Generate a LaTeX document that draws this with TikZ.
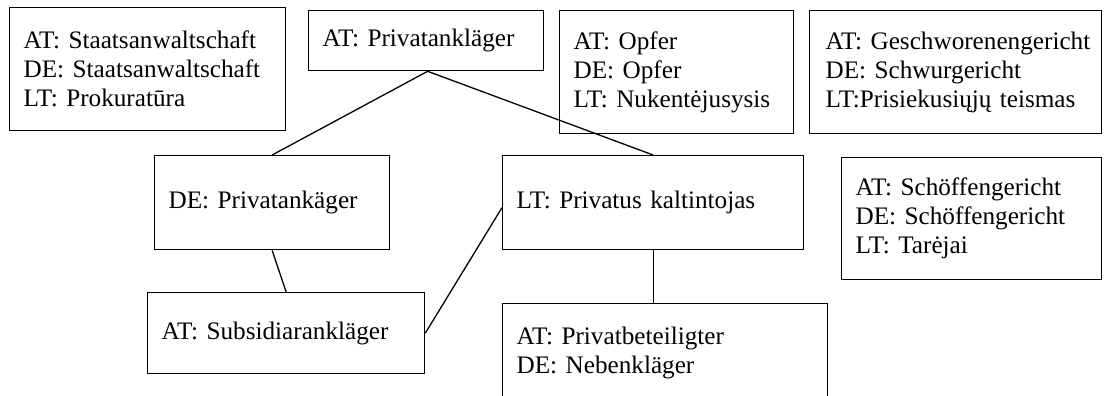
\documentclass[tikz,border=0pt]{standalone}
\usepackage{fontspec}
\setmainfont{Liberation Serif}
\frenchspacing
\hyphenpenalty=10000
\exhyphenpenalty=10000
\hbadness=10000
\hfuzz=50pt
\usetikzlibrary{positioning}
\tikzset{
  box/.style={draw=black, line width=1.3pt, rectangle, anchor=north west,
    inner xsep=14pt, inner ysep=0pt, align=left,
    font=\fontsize{25.2}{29}\selectfont},
  link/.style={draw=black, line width=1.3pt}
}
\begin{document}
\begin{tikzpicture}[x=1pt,y=-1pt]
\useasboundingbox (0,0) rectangle (1104,396);
\clip (0,0) rectangle (1104,396);
\fill[white] (0,0) rectangle (1104,396);
\node[box, text width=248pt, minimum height=123pt] (sa) at (9,7)
  {AT: Staatsanwaltschaft\\DE: Staatsanwaltschaft\\LT: Prokuratūra};
\node[box, text width=207pt, minimum height=60pt] (pa) at (308,10)
  {AT: Privatankläger};
\node[box, text width=206pt, minimum height=123pt] (op) at (559,10)
  {AT: Opfer\\DE: Opfer\\LT: Nukentėjusysis};
\node[box, inner xsep=16pt, text width=260pt, minimum height=123pt] (gg) at (809,10)
  {\mbox{AT: Geschworenengericht}\\DE: Schwurgericht\\\mbox{LT:Prisiekusiųjų teismas}};
\node[box, text width=207pt, minimum height=94pt] (de) at (154,155)
  {DE: Privatankäger};
\node[box, text width=273pt, minimum height=94pt] (lt) at (502,155)
  {LT: Privatus kaltintojas};
\node[box, text width=232pt, minimum height=122pt] (sg) at (841,157)
  {AT: Schöffengericht\\DE: Schöffengericht\\LT: Tarėjai};
\node[box, text width=249pt, minimum height=81pt] (sub) at (147,292)
  {AT: Subsidiarankläger};
\node[box, text width=297pt, minimum height=99pt] (pb) at (502,303)
  {AT: Privatbeteiligter\\DE: Nebenkläger};
\coordinate (apex) at ([xshift=1.5pt]pa.south);
\draw[link] (apex) -- (de.north);
\draw[link] (apex) -- (lt.north);
\draw[link] (de.south) -- (sub.north);
\draw[link] (sub.east) -- ([yshift=-5pt]lt.west);
\draw[link] (lt.south) -- (lt.south |- pb.north);
\end{tikzpicture}
\end{document}
